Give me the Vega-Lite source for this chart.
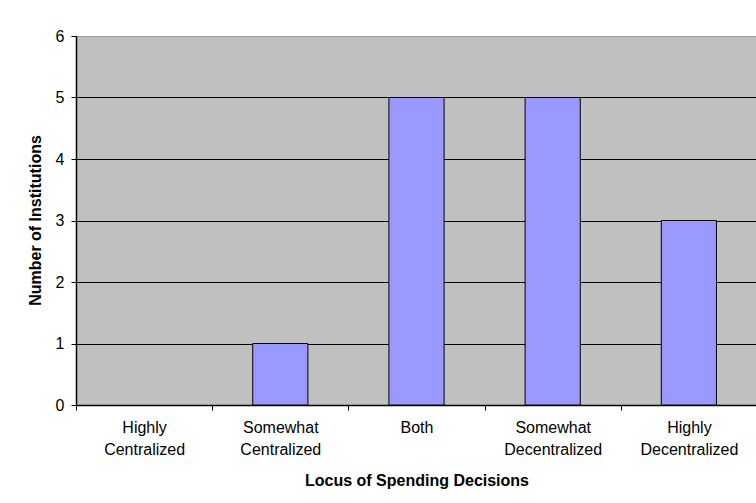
{
  "$schema": "https://vega.github.io/schema/vega-lite/v6.json",
  "autosize": {"type": "none"},
  "padding": {"left": 76, "top": 36, "right": 0, "bottom": 98},
  "width": 681,
  "height": 369,
  "background": "white",
  "config": {
    "font": "Liberation Sans",
    "view": {"fill": "#C0C0C0", "stroke": "#9a9a9a", "strokeWidth": 1}
  },
  "data": {
    "values": [
      {"locus": "Highly Centralized", "institutions": 0},
      {"locus": "Somewhat Centralized", "institutions": 1},
      {"locus": "Both", "institutions": 5},
      {"locus": "Somewhat Decentralized", "institutions": 5},
      {"locus": "Highly Decentralized", "institutions": 3}
    ]
  },
  "mark": {
    "type": "bar",
    "fill": "#9999FF",
    "stroke": "black",
    "strokeWidth": 1,
    "width": {"band": 0.405}
  },
  "encoding": {
    "x": {
      "field": "locus",
      "type": "nominal",
      "sort": null,
      "scale": {"paddingInner": 0, "paddingOuter": 0},
      "axis": {
        "title": "Locus of Spending Decisions",
        "titleFont": "Liberation Sans",
        "titleFontSize": 16,
        "titleFontWeight": "bold",
        "titleColor": "black",
        "titleY": 75,
        "titleBaseline": "middle",
        "labelExpr": "split(datum.label, ' ')",
        "labelAngle": 0,
        "labelFont": "Liberation Sans",
        "labelFontSize": 16,
        "labelColor": "black",
        "labelLineHeight": 22,
        "labelBaseline": "top",
        "labelPadding": 9,
        "labelLimit": 200,
        "tickBand": "extent",
        "tickColor": "black",
        "tickSize": 5,
        "domainColor": "black",
        "domainWidth": 1.5,
        "grid": false
      }
    },
    "y": {
      "field": "institutions",
      "type": "quantitative",
      "scale": {"domain": [0, 6], "nice": false},
      "axis": {
        "title": "Number of Institutions",
        "titleFont": "Liberation Sans",
        "titleFontSize": 16,
        "titleFontWeight": "bold",
        "titleColor": "black",
        "titleAngle": -90,
        "titleX": -41,
        "titleY": 184,
        "titleBaseline": "middle",
        "titleAlign": "center",
        "values": [0, 1, 2, 3, 4, 5, 6],
        "labelFont": "Liberation Sans",
        "labelFontSize": 16,
        "labelColor": "black",
        "labelPadding": 7,
        "tickColor": "black",
        "tickSize": 5,
        "domainColor": "black",
        "domainWidth": 1.5,
        "grid": true,
        "gridColor": {"condition": {"test": "datum.value == 6", "value": "#9a9a9a"}, "value": "black"},
        "gridWidth": 1
      }
    },
    "strokeOpacity": {
      "condition": {"test": "datum.institutions == 0", "value": 0},
      "value": 1
    }
  }
}
